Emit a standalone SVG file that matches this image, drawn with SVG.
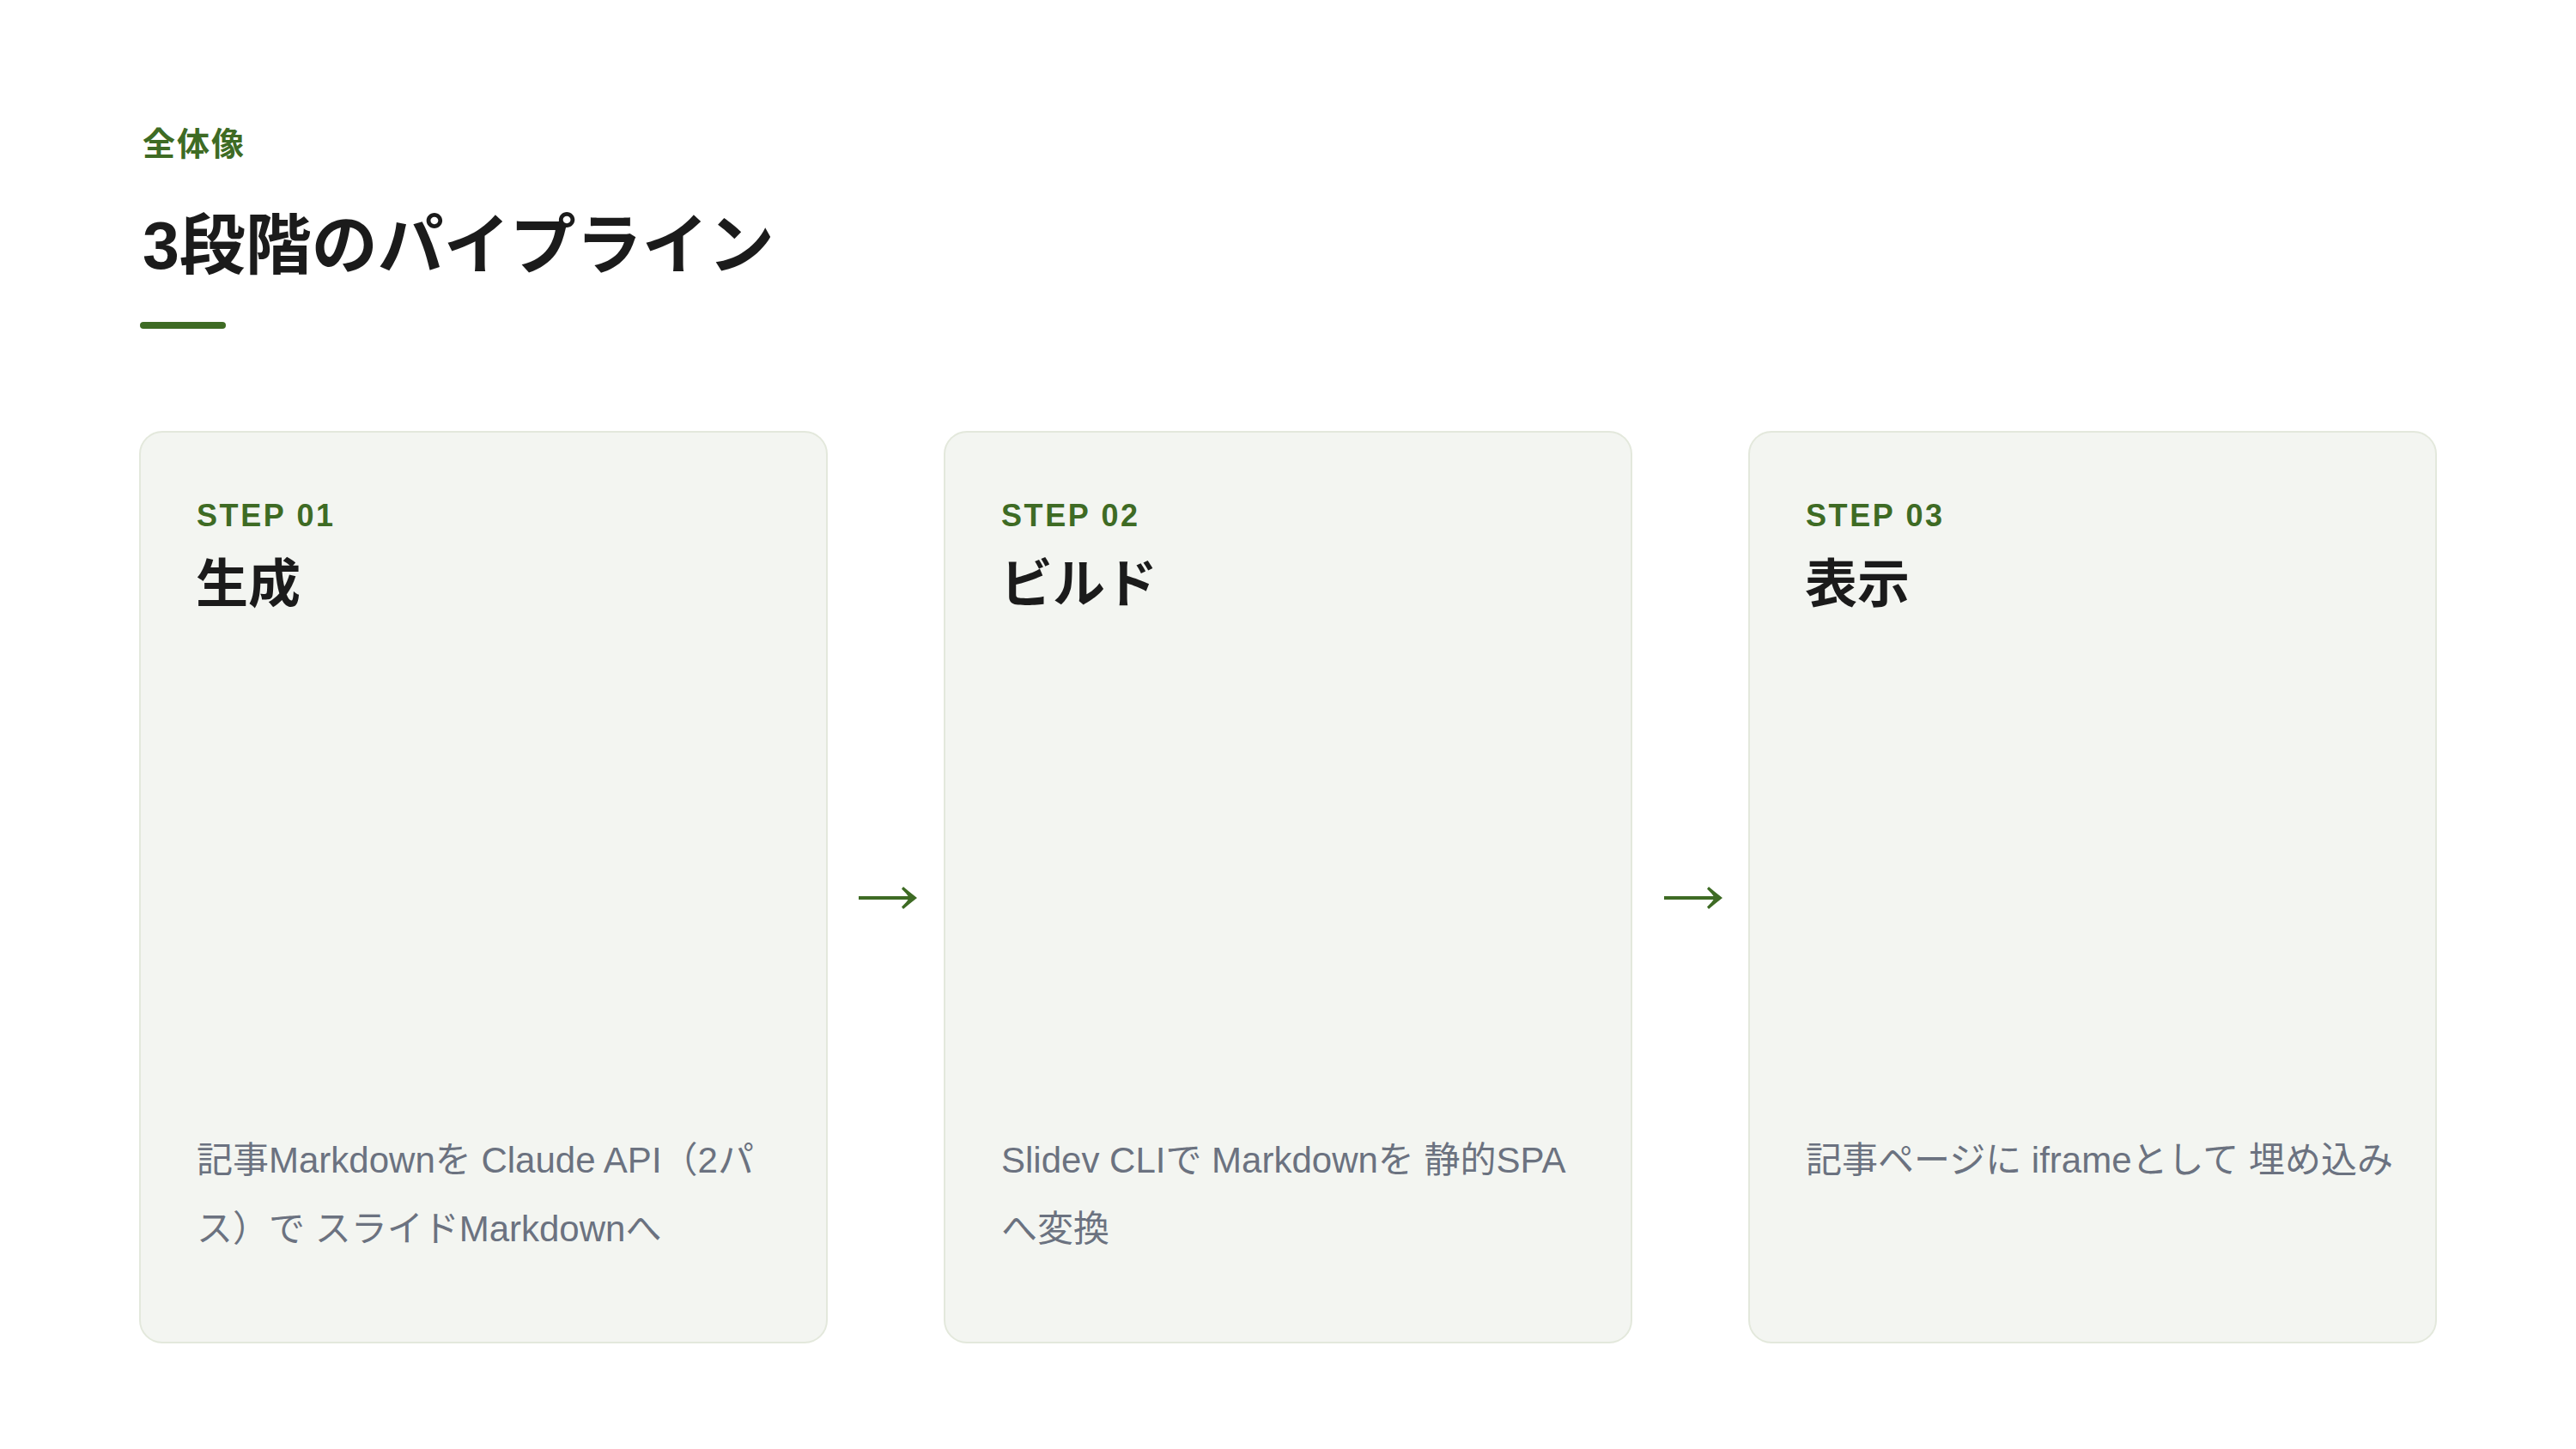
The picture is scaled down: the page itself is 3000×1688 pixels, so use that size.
<svg xmlns="http://www.w3.org/2000/svg" width="3000" height="1688" viewBox="0 0 3000 1688">
  <defs>
    <style>
      .jp { font-family: "Liberation Sans", "Noto Sans CJK JP", sans-serif; }
      .eyebrow { font-size: 38px; font-weight: 700; fill: #3e6b24; letter-spacing: 2px; }
      .title { font-size: 77px; font-weight: 700; fill: #1b1b1b; }
      .card { fill: #f3f5f1; stroke: #e3e8dc; stroke-width: 2; }
      .step { font-size: 36px; font-weight: 700; fill: #3e6b24; letter-spacing: 2.6px; }
      .name { font-size: 61px; font-weight: 700; fill: #1b1b1b; }
      .desc { font-size: 42px; font-weight: 400; fill: #6b7280; }
      .conn { stroke: #3e6b24; stroke-width: 4; fill: none; }
    </style>
    <marker id="head" markerUnits="userSpaceOnUse" viewBox="0 0 20 28" markerWidth="20" markerHeight="28" refX="11" refY="14" orient="auto">
      <path d="M19,14 Q10,7 3,1 L1,3.5 Q7,9 10,14 Q7,19 1,24.5 L3,27 Q10,21 19,14 Z" fill="#3e6b24"/>
    </marker>
  </defs>
  <rect width="3000" height="1688" fill="#ffffff"/>

  <g id="header">
    <text class="jp eyebrow" x="166" y="181">全体像</text>
    <text class="jp title" x="166" y="313">3段階のパイプライン</text>
    <rect x="163" y="375" width="100" height="8" rx="4" fill="#3e6b24"/>
  </g>

  <g id="step1">
    <rect class="card" x="163" y="503" width="800" height="1061" rx="26"/>
    <text class="jp step" x="229" y="613">STEP 01</text>
    <text class="jp name" x="228" y="702">生成</text>
    <text class="jp desc" x="229" y="1366">記事Markdownを Claude API（2パ</text>
    <text class="jp desc" x="229" y="1446">ス）で スライドMarkdownへ</text>
  </g>

  <g id="step2">
    <rect class="card" x="1100" y="503" width="800" height="1061" rx="26"/>
    <text class="jp step" x="1166" y="613">STEP 02</text>
    <text class="jp name" x="1165" y="702">ビルド</text>
    <text class="jp desc" x="1166" y="1366">Slidev CLIで Markdownを 静的SPA</text>
    <text class="jp desc" x="1166" y="1446">へ変換</text>
  </g>

  <g id="step3">
    <rect class="card" x="2037" y="503" width="800" height="1061" rx="26"/>
    <text class="jp step" x="2103" y="613">STEP 03</text>
    <text class="jp name" x="2102" y="702">表示</text>
    <text class="jp desc" x="2103" y="1366">記事ページに iframeとして 埋め込み</text>
  </g>

  <g id="connectors">
    <line class="conn" x1="1000" y1="1046" x2="1060" y2="1046" marker-end="url(#head)"/>
    <line class="conn" x1="1938" y1="1046" x2="1998" y2="1046" marker-end="url(#head)"/>
  </g>
</svg>
